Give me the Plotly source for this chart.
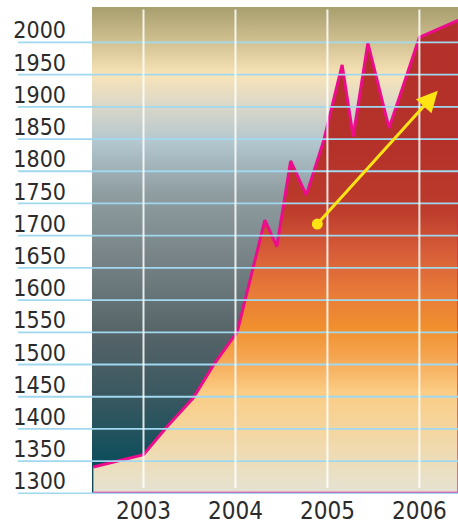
import plotly.graph_objects as go

# ---- data ----
years = [2002.455, 2003.0, 2003.26, 2003.54, 2003.76, 2004.02, 2004.32, 2004.45,
         2004.60, 2004.77, 2004.96, 2005.16, 2005.28, 2005.44, 2005.67, 2006.0, 2006.43]
values = [1341, 1360, 1404, 1448, 1499, 1551, 1724, 1683,
          1816, 1763, 1848, 1965, 1854, 1999, 1867, 2008, 2035]
x_ticks = [2003, 2004, 2005, 2006]
x_tick_labels = ["2003", "2004", "2005", "2006"]
y_ticks = [1300, 1350, 1400, 1450, 1500, 1550, 1600, 1650, 1700, 1750,
           1800, 1850, 1900, 1950, 2000]
y_tick_labels = [str(v) for v in y_ticks]
arrow_start = (2004.89, 1718)
arrow_end = (2006.2, 1925)

X_RANGE = [2002.44, 2006.42]
Y_RANGE = [1299, 2055]
BASE = y_ticks[0]

FONT = "Liberation Sans Narrow, DejaVu Sans Condensed, Arial Narrow, sans-serif"

fig = go.Figure()

# background gradient panel
fig.add_trace(go.Scatter(
    x=[X_RANGE[0], X_RANGE[1], X_RANGE[1], X_RANGE[0]],
    y=[Y_RANGE[0], Y_RANGE[0], Y_RANGE[1], Y_RANGE[1]],
    fill="toself", mode="lines", line=dict(width=0), hoverinfo="skip",
    showlegend=False,
    fillgradient=dict(type="vertical", start=Y_RANGE[0], stop=Y_RANGE[1],
                      colorscale=[
                          [0.0, "#0a4856"], [0.07, "#0f4e5c"], [0.2, "#3a5860"],
                          [0.33, "#566468"], [0.5, "#7a868a"], [0.62, "#909ea2"],
                          [0.72, "#b2c6ce"], [0.80, "#dcd8c8"], [0.86, "#f8e4b8"],
                          [0.93, "#d0c090"], [1.0, "#a89e6e"]]),
))

# area series
fig.add_trace(go.Scatter(
    x=years + [years[-1], years[0]],
    y=values + [BASE, BASE],
    fill="toself", mode="lines",
    line=dict(color="#ec0c8c", width=3),
    hoverinfo="skip", showlegend=False,
    fillgradient=dict(type="vertical", start=Y_RANGE[0], stop=Y_RANGE[1],
                      colorscale=[
                          [0.0, "#e4e2d4"], [0.05, "#ebdfc0"], [0.13, "#f4d6a0"],
                          [0.21, "#fbcc84"], [0.28, "#f5a652"], [0.34, "#f0902e"],
                          [0.41, "#e87c38"], [0.50, "#d65c38"], [0.58, "#bd3c2c"],
                          [0.7, "#b5322a"], [1.0, "#b3302a"]]),
))

# arrow tail dot
fig.add_trace(go.Scatter(
    x=[arrow_start[0]], y=[arrow_start[1]], mode="markers",
    marker=dict(color="#ffe414", size=11), hoverinfo="skip", showlegend=False,
))

shapes = []
for v in y_ticks:
    shapes.append(dict(type="line", xref="paper", yref="y", x0=-0.202, x1=1,
                       y0=v, y1=v, line=dict(color="#a0d8f0", width=1.8),
                       layer="above"))
for v in x_ticks:
    shapes.append(dict(type="line", xref="x", yref="paper", x0=v, x1=v,
                       y0=0.012, y1=0.995,
                       line=dict(color="rgba(255,255,255,0.85)", width=2),
                       layer="above"))

fig.update_layout(
    width=458, height=528,
    margin=dict(l=92, r=0, t=7, b=34),
    paper_bgcolor="white", plot_bgcolor="white",
    shapes=shapes,
    annotations=[dict(
        x=arrow_end[0], y=arrow_end[1], xref="x", yref="y",
        ax=arrow_start[0], ay=arrow_start[1], axref="x", ayref="y",
        showarrow=True, arrowhead=2, arrowsize=1.4, arrowwidth=3,
        arrowcolor="#ffe414", text="")],
    xaxis=dict(range=X_RANGE, tickvals=x_ticks, ticktext=x_tick_labels,
               showgrid=False, zeroline=False, ticks="", showline=False,
               tickfont=dict(family=FONT, size=24, color="#2b2b2b")),
    yaxis=dict(range=Y_RANGE, tickvals=y_ticks, ticktext=y_tick_labels,
               showgrid=False, zeroline=False, ticks="", showline=False,
               ticklabelshift=-12, ticklabelstandoff=25,
               tickfont=dict(family=FONT, size=23, color="#2b2b2b")),
)

fig.write_html("out.html", config={"displayModeBar": False},
               post_script="document.body.style.margin='0';")
